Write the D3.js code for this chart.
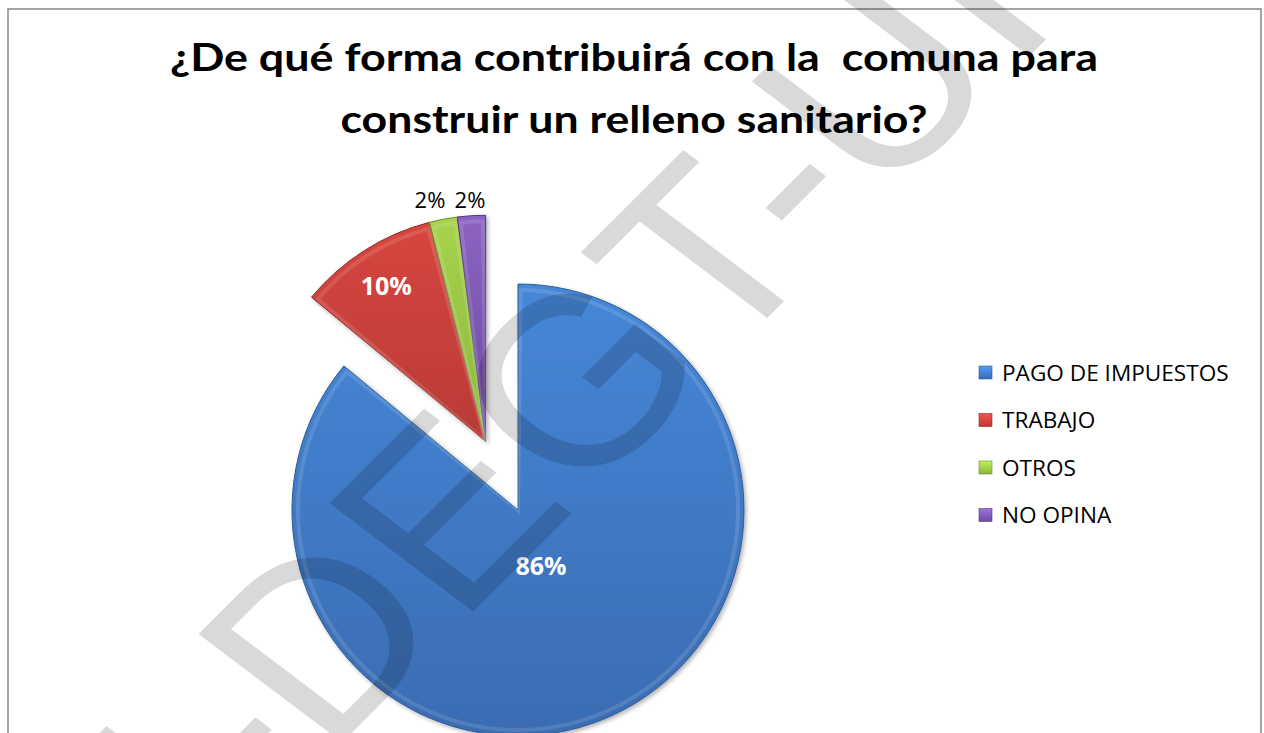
<!DOCTYPE html>
<html>
<head>
<meta charset="utf-8">
<script src="https://cdn.jsdelivr.net/npm/d3@7"></script>
<style>
  html, body { margin: 0; padding: 0; background: #fff; }
  svg { display: block; }
  text.pre { white-space: pre; }
</style>
</head>
<body>
<script>
// ---- data ----
const titleLines = ["¿De qué forma contribuirá con la  comuna para", "construir un relleno sanitario?"];
const categories = ["PAGO DE IMPUESTOS", "TRABAJO", "OTROS", "NO OPINA"];
const values = [86, 10, 2, 2];
const valueLabels = ["86%", "10%", "2%", "2%"];
const watermarkText = "UI-DEGT-UI";

// ---- styles ----
const topColors = ["#4687d8", "#d7463f", "#a8d34c", "#8c63c2"];
const botColors = ["#3a6cb2", "#b93a36", "#8ab53c", "#6c4b9e"];
const edgeColors = ["#2d5a94", "#8e2b28", "#6a8c2c", "#4f3775"];

const W = 1264, H = 733;
const svg = d3.select("body").append("svg").attr("width", W).attr("height", H);
const defs = svg.append("defs");

categories.forEach((c, i) => {
  const g = defs.append("linearGradient").attr("id", "grad" + i)
    .attr("x1", 0).attr("y1", 0).attr("x2", 0).attr("y2", 1);
  g.append("stop").attr("offset", "0%").attr("stop-color", topColors[i]);
  g.append("stop").attr("offset", "100%").attr("stop-color", botColors[i]);
  const lg = defs.append("linearGradient").attr("id", "lgrad" + i)
    .attr("x1", 0).attr("y1", 0).attr("x2", 0).attr("y2", 1);
  lg.append("stop").attr("offset", "0%").attr("stop-color", d3.color(topColors[i]).brighter(0.4));
  lg.append("stop").attr("offset", "100%").attr("stop-color", botColors[i]);
});
const shadow = defs.append("filter").attr("id", "shadow")
  .attr("x", "-20%").attr("y", "-20%").attr("width", "140%").attr("height", "140%");
shadow.append("feDropShadow").attr("dx", 2).attr("dy", 2).attr("stdDeviation", 2)
  .attr("flood-color", "#000").attr("flood-opacity", 0.3);

// chart border
svg.append("rect").attr("x", 8).attr("y", 9).attr("width", 1253).attr("height", 760)
  .attr("fill", "#fff").attr("stroke", "#878787").attr("stroke-width", 1.5);

// title
const titleY = [71, 133];
const titleW = [928, 587];
svg.append("g").selectAll("text").data(titleLines).join("text")
  .attr("class", "pre")
  .attr("xml:space", "preserve")
  .attr("x", 634).attr("y", (d, i) => titleY[i])
  .attr("text-anchor", "middle")
  .attr("font-family", "Lato, 'Open Sans', sans-serif")
  .attr("font-weight", 700).attr("font-size", 38)
  .attr("textLength", (d, i) => titleW[i])
  .attr("lengthAdjust", "spacingAndGlyphs")
  .attr("fill", "#000")
  .text(d => d);

// pie
const cx = 518, cy = 510, R = 226, explode = 76;
const pie = d3.pie().sort(null).value(d => d);
const arcsData = pie(values);
const arc = d3.arc().innerRadius(0).outerRadius(R);
const groupMid = (arcsData[1].startAngle + arcsData[arcsData.length - 1].endAngle) / 2;
const offset = i => i === 0 ? [0, 0] : [explode * Math.sin(groupMid), -explode * Math.cos(groupMid)];

const slices = svg.append("g").attr("filter", "url(#shadow)");
slices.selectAll("path").data(arcsData).join("path")
  .attr("transform", (d, i) => `translate(${cx + offset(i)[0]},${cy + offset(i)[1]})`)
  .attr("d", arc)
  .attr("fill", (d, i) => `url(#grad${i})`)
  .attr("stroke", (d, i) => edgeColors[i])
  .attr("stroke-width", 1)
  .attr("stroke-linejoin", "round");

// bevel highlight
const innerArc = d3.arc().innerRadius(0).outerRadius(R - 6);
svg.append("g").selectAll("path").data(arcsData).join("path")
  .attr("transform", (d, i) => `translate(${cx + offset(i)[0]},${cy + offset(i)[1]})`)
  .attr("d", d => innerArc({startAngle: d.startAngle + 0.012, endAngle: d.endAngle - 0.012}))
  .attr("fill", "none")
  .attr("stroke", "#ffffff").attr("stroke-opacity", 0.12).attr("stroke-width", 4);

// data labels
const labelPos = (d, i) => {
  const a = (d.startAngle + d.endAngle) / 2;
  const o = offset(i);
  let r;
  if (d.value >= 50) r = 0.27 * R;
  else if (d.value >= 5) r = 0.82 * R;
  else r = R + 24;
  return [cx + o[0] + r * Math.sin(a), cy + o[1] - r * Math.cos(a)];
};
const pos = arcsData.map(labelPos);
// avoid overlap of outside labels
const outside = arcsData.map((d, i) => i).filter(i => arcsData[i].value < 5);
for (let k = outside.length - 2; k >= 0; k--) {
  const a = outside[k], b = outside[k + 1];
  if (pos[b][0] - pos[a][0] < 40) pos[a][0] = pos[b][0] - 40;
}
const outY = d3.max(outside, i => pos[i][1]) + 3;
outside.forEach(i => pos[i][1] = outY);

svg.append("g").selectAll("text").data(arcsData).join("text")
  .attr("x", (d, i) => pos[i][0] - (d.value >= 50 ? 3 : 0))
  .attr("y", (d, i) => pos[i][1])
  .attr("text-anchor", "middle")
  .attr("dominant-baseline", "central")
  .attr("font-family", "'Open Sans', sans-serif")
  .attr("font-weight", d => d.value >= 5 ? 700 : 400)
  .attr("font-size", d => d.value >= 5 ? 25 : 22)
  .attr("fill", d => d.value >= 5 ? "#fff" : "#000")
  .text((d, i) => valueLabels[i]);

// legend
const legend = svg.append("g").attr("transform", "translate(979,372)");
const rowH = 47.5;
const items = legend.selectAll("g").data(categories).join("g")
  .attr("transform", (d, i) => `translate(0,${i * rowH})`);
items.append("rect").attr("x", 0).attr("y", -6).attr("width", 13).attr("height", 13)
  .attr("fill", (d, i) => `url(#lgrad${i})`)
  .attr("stroke", (d, i) => edgeColors[i]).attr("stroke-width", 0.6);
items.append("text").attr("x", 23).attr("y", 0)
  .attr("dominant-baseline", "central")
  .attr("font-family", "'Open Sans', sans-serif")
  .attr("font-size", 22.6)
  .attr("fill", "#000")
  .text(d => d);

// watermark
svg.append("text")
  .attr("transform", "translate(85.4,998.7) scale(1.152,1) rotate(-49)")
  .attr("x", 0).attr("y", 0)
  .attr("font-family", "'Liberation Sans', Arial, sans-serif")
  .attr("font-size", 240)
  .attr("fill", "#000").attr("fill-opacity", 0.15)
  .text(watermarkText);
</script>
</body>
</html>
